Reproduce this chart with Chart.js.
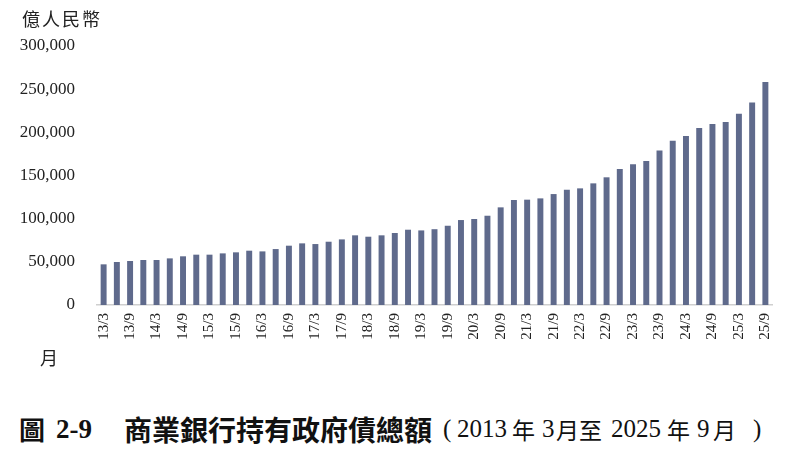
<!DOCTYPE html>
<html>
<head>
<meta charset="utf-8">
<script src="https://cdn.jsdelivr.net/npm/chart.js@4/dist/chart.umd.min.js"></script>
<style>
  html, body { margin: 0; padding: 0; background: #fff; }
  #wrap { position: relative; width: 800px; height: 465px; overflow: hidden; }
  #box { position: absolute; left: 0; top: 0; width: 800px; height: 400px; }
  .lbl { position: absolute; font-family: "Noto Sans CJK TC", serif; color: #222; font-size: 16px; line-height: 1; }
  .t { position: absolute; top: 415px; line-height: 28px; white-space: nowrap; color: #111;
       font-family: "Liberation Serif", serif; font-size: 25px; }
  .t.cjk { font-family: "Noto Sans CJK TC", sans-serif; font-size: 23px; }
  .t.b { font-weight: bold; }
  .t.big { font-size: 28px; }
</style>
</head>
<body>
<div id="wrap">
  <div id="box"><canvas id="chart"></canvas></div>
  <div class="lbl" style="left:22px; top:9px; font-size:18px; letter-spacing:2px;">億人民幣</div>
  <div class="lbl" style="left:40px; top:348px; font-size:18px;">月</div>

  <span class="t cjk b" style="left:19px; font-size:26px;">圖</span>
  <span class="t b" style="left:56px; font-size:27px;">2-9</span>
  <span class="t cjk b big" style="left:124px;">商業銀行持有政府債總額</span>
  <span class="t" style="left:443px;">(</span>
  <span class="t" style="left:457px;">2013</span>
  <span class="t cjk" style="left:512px;">年</span>
  <span class="t" style="left:542px;">3</span>
  <span class="t cjk" style="left:556px;">月至</span>
  <span class="t" style="left:611px;">2025</span>
  <span class="t cjk" style="left:667px;">年</span>
  <span class="t" style="left:697px;">9</span>
  <span class="t cjk" style="left:713px;">月</span>
  <span class="t" style="left:753px;">)</span>
</div>
<script>
// quarterly, 2013/3 .. 2025/9
const quarters = [
  "13/3", "13/6", "13/9", "13/12", "14/3", "14/6", "14/9", "14/12",
  "15/3", "15/6", "15/9", "15/12", "16/3", "16/6", "16/9", "16/12",
  "17/3", "17/6", "17/9", "17/12", "18/3", "18/6", "18/9", "18/12",
  "19/3", "19/6", "19/9", "19/12", "20/3", "20/6", "20/9", "20/12",
  "21/3", "21/6", "21/9", "21/12", "22/3", "22/6", "22/9", "22/12",
  "23/3", "23/6", "23/9", "23/12", "24/3", "24/6", "24/9", "24/12",
  "25/3", "25/6", "25/9"
]
const govBonds = [
  47100, 49800, 51000, 52100, 52100, 54000, 56400, 58300,
  58300, 59800, 61000, 62900, 62100, 64800, 68700, 71400,
  70600, 73300, 76000, 80700, 79100, 80700, 83400, 87200,
  86400, 87800, 91800, 98400, 99600, 103400, 113100, 121600,
  122000, 123500, 128500, 133500, 135100, 140900, 147900, 157500,
  162900, 166700, 179100, 190300, 195700, 205000, 209600, 211900,
  221500, 234700, 258200
]
const yTicks = [0, 50000, 100000, 150000, 200000, 250000, 300000]

const ctx = document.getElementById("chart")
new Chart(ctx, {
  type: "bar",
  data: {
    labels: quarters,
    datasets: [
      {
        data: govBonds,
        backgroundColor: "#5f6a8c",
        barPercentage: 0.45,
        categoryPercentage: 1,
      },
    ],
  },
  options: {
    responsive: true,
    maintainAspectRatio: false,
    animation: false,
    layout: { padding: { top: 46, right: 28, left: 0, bottom: 0 } },
    plugins: {
      legend: { display: false },
      tooltip: { enabled: false },
    },
    scales: {
      x: {
        grid: { display: false, drawTicks: false },
        border: { display: true, color: "#cfcfcf", width: 1.5 },
        ticks: {
          autoSkip: false,
          maxRotation: 90,
          minRotation: 90,
          padding: 8,
          color: "#222",
          font: { family: "Liberation Serif", size: 15 },
          // only every other quarter is labelled
          callback: (value, index) => (index % 2 === 0 ? quarters[index] : ""),
        },
        afterFit: (scale) => {
          scale.height = 95
        },
      },
      y: {
        min: 0,
        max: 300000,
        afterBuildTicks: (scale) => {
          scale.ticks = yTicks.map((v) => ({ value: v }))
        },
        grid: { display: false, drawTicks: false },
        border: { display: false },
        ticks: {
          padding: 22,
          color: "#222",
          font: { family: "Liberation Serif", size: 17 },
          callback: (v) => v.toLocaleString("en-US"),
        },
        afterFit: (scale) => {
          scale.width = 97
        },
      },
    },
  },
})
</script>
</body>
</html>
